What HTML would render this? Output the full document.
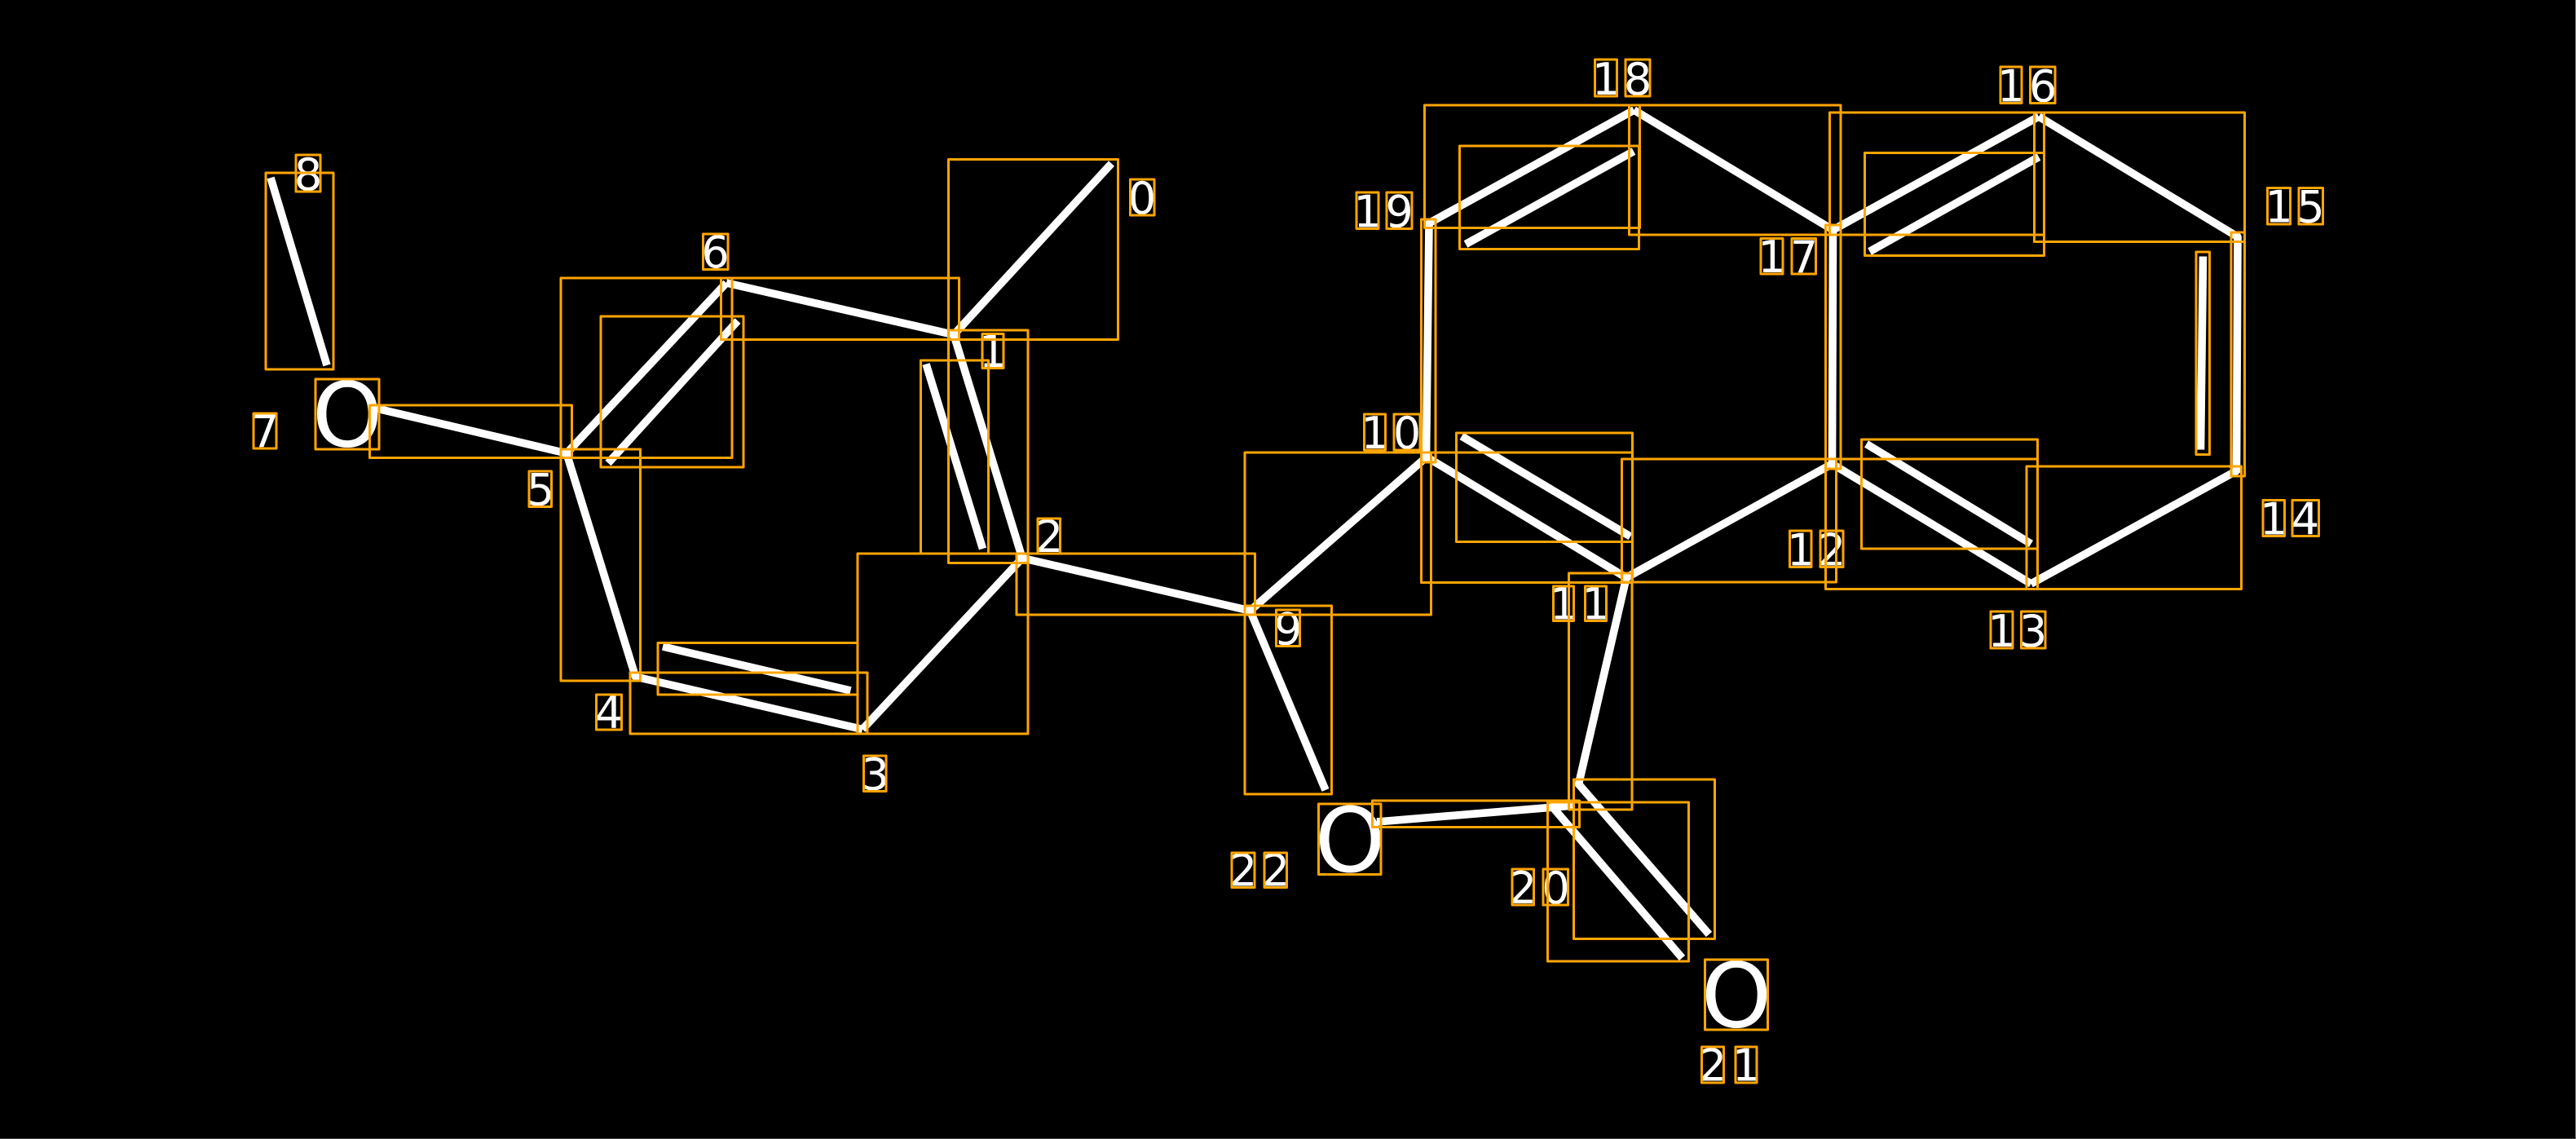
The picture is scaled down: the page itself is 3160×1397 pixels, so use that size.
<!DOCTYPE html>
<html><head><meta charset="utf-8"><style>
html,body{margin:0;padding:0;background:#000;width:3160px;height:1397px;overflow:hidden}
svg{display:block}
.b line{stroke:#fff;stroke-width:9.6;stroke-linecap:butt}
.n circle{fill:#fff;r:4.8px}
.t text{fill:#fff;font-family:"DejaVu Sans",sans-serif;font-size:54px;text-anchor:middle}
.t text.o{font-size:110px}
.r rect{fill:none;stroke:#FFA500;stroke-width:3;stroke-linejoin:round}
</style></head><body>
<svg xmlns="http://www.w3.org/2000/svg" width="3160" height="1397" viewBox="0 0 3160 1397">
<rect width="3160" height="1397" fill="#000"/>
<rect x="3159" y="0" width="1" height="1397" fill="#808080"/>
<rect x="0" y="1396" width="3160" height="1" fill="#404040"/>
<g class="b">
<line x1="1363.5" y1="200.5" x2="1170" y2="410.5"/>
<line x1="1170" y1="410.5" x2="1254" y2="684.5"/>
<line x1="1136" y1="446.5" x2="1205.5" y2="673"/>
<line x1="1254" y1="684.5" x2="1058" y2="894.5"/>
<line x1="1058" y1="894.5" x2="779.5" y2="830"/>
<line x1="1043.5" y1="847" x2="813" y2="793"/>
<line x1="779.5" y1="830" x2="695" y2="556"/>
<line x1="695" y1="556" x2="891" y2="347"/>
<line x1="746" y1="568" x2="905" y2="393.5"/>
<line x1="891" y1="347" x2="1170" y2="410.5"/>
<line x1="695" y1="556" x2="462" y2="501"/>
<line x1="401" y1="448" x2="332" y2="218"/>
<line x1="1254" y1="684.5" x2="1533.5" y2="749"/>
<line x1="1533.5" y1="749" x2="1750" y2="560.5"/>
<line x1="1533.5" y1="749" x2="1626" y2="969"/>
<line x1="1750" y1="560.5" x2="1995" y2="708.5"/>
<line x1="1793" y1="535" x2="2000" y2="658"/>
<line x1="1995" y1="708.5" x2="2247.5" y2="569"/>
<line x1="1995" y1="708.5" x2="1936" y2="964"/>
<line x1="1689" y1="1008" x2="1931" y2="988"/>
<line x1="1903" y1="988" x2="2063.5" y2="1175"/>
<line x1="1935" y1="960" x2="2096.5" y2="1146"/>
<line x1="1749.5" y1="560.5" x2="1753" y2="274"/>
<line x1="1752.5" y1="274" x2="2004.5" y2="135"/>
<line x1="1798" y1="299.5" x2="2004" y2="185.5"/>
<line x1="2004.5" y1="135" x2="2248.5" y2="282"/>
<line x1="2248.5" y1="282" x2="2247.5" y2="569"/>
<line x1="2248.5" y1="282" x2="2501" y2="143"/>
<line x1="2293.5" y1="308.5" x2="2501" y2="192.5"/>
<line x1="2501" y1="143" x2="2745" y2="290.5"/>
<line x1="2745" y1="290.5" x2="2743.5" y2="577.5"/>
<line x1="2702.5" y1="314.5" x2="2699.5" y2="551.5"/>
<line x1="2743.5" y1="577.5" x2="2491.5" y2="716"/>
<line x1="2491.5" y1="716" x2="2247.5" y2="569"/>
<line x1="2289.5" y1="544.5" x2="2491.5" y2="667"/>
</g>
<g class="n">
<circle cx="1170" cy="410.5"/>
<circle cx="1254" cy="684.5"/>
<circle cx="695" cy="556"/>
<circle cx="779.5" cy="830"/>
<circle cx="1533.5" cy="749"/>
<circle cx="1750" cy="560.5"/>
<circle cx="1995" cy="708.5"/>
<circle cx="2247.5" cy="569"/>
<circle cx="2248.5" cy="282"/>
<circle cx="1753" cy="274"/>
<circle cx="2745" cy="290.5"/>
<circle cx="2743.5" cy="577.5"/>
</g>
<g class="t">
<text x="1401" y="262">0</text>
<text x="1218" y="450">1</text>
<text x="1287" y="677">2</text>
<text x="1073.5" y="968.5">3</text>
<text x="747" y="893">4</text>
<text x="663" y="619.5">5</text>
<text x="877.5" y="328">6</text>
<text x="325" y="548">7</text>
<text x="378" y="233">8</text>
<text x="1580" y="790.5">9</text>
<text x="1686.5" y="550">1</text><text x="1726" y="550">0</text>
<text x="1918" y="759.5">1</text><text x="1957.5" y="759.5">1</text>
<text x="2209" y="693.5">1</text><text x="2247" y="693.5">2</text>
<text x="2455.5" y="793">1</text><text x="2494" y="793">3</text>
<text x="2789" y="655.5">1</text><text x="2828" y="655.5">4</text>
<text x="2795.5" y="272.5">1</text><text x="2834.5" y="272.5">5</text>
<text x="2467" y="124.5">1</text><text x="2506" y="124.5">6</text>
<text x="2173.5" y="334">1</text><text x="2213" y="334">7</text>
<text x="1970" y="116">1</text><text x="2009" y="116">8</text>
<text x="1677.5" y="278.5">1</text><text x="1716.5" y="278.5">9</text>
<text x="1868" y="1108">2</text><text x="1908.5" y="1108">0</text>
<text x="2101" y="1325.5">2</text><text x="2142" y="1325.5">1</text>
<text x="1525" y="1086.5">2</text><text x="1565" y="1086.5">2</text>
<text class="o" x="426" y="547.5">O</text>
<text class="o" x="1656" y="1069">O</text>
<text class="o" x="2130" y="1259.5">O</text>
</g>
<g class="r">
<rect x="1163.5" y="195.5" width="208" height="221"/>
<rect x="1163.5" y="405" width="97.5" height="285.5"/>
<rect x="1129.5" y="442" width="83" height="237"/>
<rect x="1052" y="679" width="209" height="221"/>
<rect x="773" y="825" width="291" height="75"/>
<rect x="807" y="788.5" width="245" height="63.5"/>
<rect x="688" y="551" width="97.5" height="284"/>
<rect x="688" y="341" width="210" height="220.5"/>
<rect x="737" y="388" width="175" height="185"/>
<rect x="884.5" y="341" width="292" height="75.5"/>
<rect x="453.5" y="497" width="248" height="64.5"/>
<rect x="326" y="212" width="83" height="241"/>
<rect x="1247" y="679" width="292.5" height="75"/>
<rect x="1527" y="555" width="228.5" height="199"/>
<rect x="1527" y="743" width="106.5" height="231"/>
<rect x="1743.5" y="555" width="259" height="159.5"/>
<rect x="1786.5" y="531" width="216" height="133.5"/>
<rect x="1989.5" y="563" width="263" height="151"/>
<rect x="1924.5" y="703" width="77.5" height="290"/>
<rect x="1683.5" y="982" width="254" height="32.5"/>
<rect x="1898.5" y="984" width="173" height="195"/>
<rect x="1930.5" y="956" width="173" height="195.5"/>
<rect x="1743.5" y="269" width="17.5" height="298"/>
<rect x="1747.5" y="129" width="264" height="150.5"/>
<rect x="1790.5" y="179" width="220" height="126.5"/>
<rect x="1998.5" y="129" width="259.5" height="159"/>
<rect x="2239.5" y="276" width="18.5" height="299"/>
<rect x="2244.5" y="138" width="263" height="150"/>
<rect x="2287.5" y="187.5" width="220" height="126"/>
<rect x="2495.5" y="138" width="258" height="158.5"/>
<rect x="2737" y="285" width="16.5" height="299"/>
<rect x="2694" y="309" width="16.5" height="248.5"/>
<rect x="2486" y="572" width="263.5" height="150.5"/>
<rect x="2239.5" y="563" width="260" height="159.5"/>
<rect x="2283.5" y="539" width="216" height="134"/>
<rect x="387" y="465" width="78" height="86"/>
<rect x="1617.5" y="986" width="76.5" height="86.5"/>
<rect x="2091.5" y="1177" width="77" height="86"/>
<rect x="1386.5" y="220" width="29.5" height="44"/>
<rect x="1205" y="409.5" width="26" height="42"/>
<rect x="1273" y="636" width="27.5" height="43"/>
<rect x="1059.5" y="927" width="27.5" height="43.5"/>
<rect x="731.5" y="852" width="31" height="43"/>
<rect x="649" y="578" width="27.5" height="43.5"/>
<rect x="862.5" y="287" width="30.5" height="43.5"/>
<rect x="311" y="507" width="28" height="43"/>
<rect x="363" y="190" width="30" height="45"/>
<rect x="1565.5" y="748" width="29" height="44.5"/>
<rect x="1673.5" y="508" width="26" height="44"/><rect x="1710" y="508" width="32" height="44"/>
<rect x="1905.5" y="719" width="25" height="42.5"/><rect x="1944.5" y="719" width="26" height="42.5"/>
<rect x="2195.5" y="651" width="26.5" height="44.5"/><rect x="2233" y="651" width="28" height="44.5"/>
<rect x="2442" y="750" width="27" height="45"/><rect x="2479.5" y="750" width="29.5" height="45"/>
<rect x="2776" y="613.5" width="26.5" height="44"/><rect x="2812" y="613.5" width="32.5" height="44"/>
<rect x="2781.5" y="230.5" width="28" height="44.5"/><rect x="2820" y="230.5" width="29.5" height="44.5"/>
<rect x="2454" y="82" width="26" height="44.5"/><rect x="2490.5" y="82" width="30.5" height="44.5"/>
<rect x="2160" y="292.5" width="27" height="43.5"/><rect x="2198" y="292.5" width="29.5" height="43.5"/>
<rect x="1956.5" y="73" width="27" height="45"/><rect x="1994" y="73" width="30" height="45"/>
<rect x="1664" y="236" width="27" height="44.5"/><rect x="1701" y="236" width="31" height="44.5"/>
<rect x="1855" y="1066" width="26.5" height="44"/><rect x="1893" y="1066" width="30.5" height="44"/>
<rect x="2087.5" y="1284" width="27" height="44"/><rect x="2129" y="1284" width="26" height="44"/>
<rect x="1511" y="1046" width="28" height="42.5"/><rect x="1551" y="1046" width="27.5" height="42.5"/>
</g>
</svg>
</body></html>
